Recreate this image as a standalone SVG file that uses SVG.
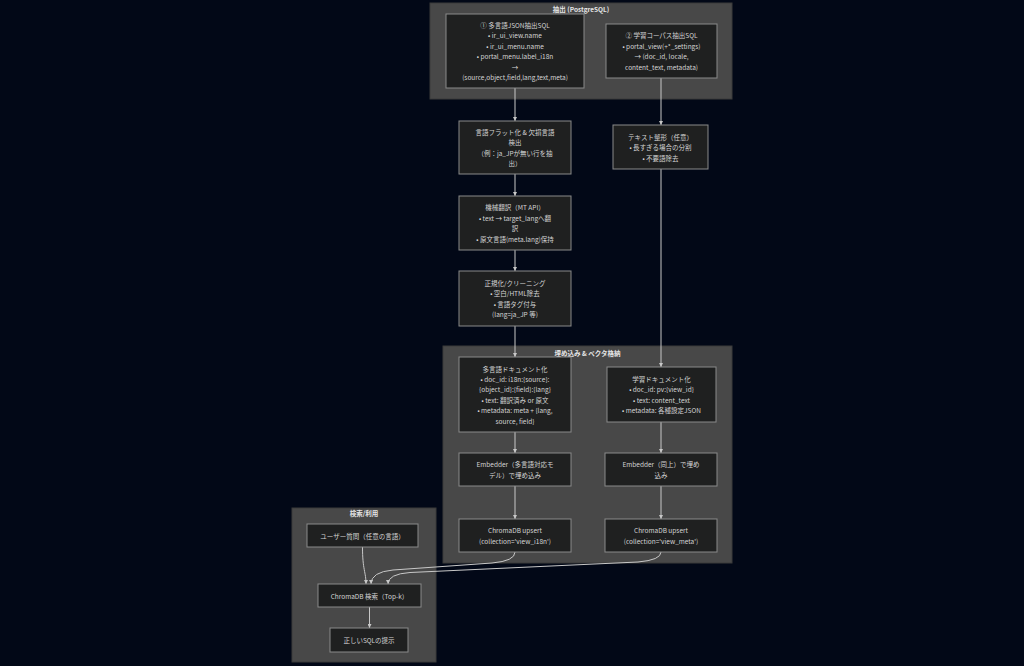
<svg xmlns="http://www.w3.org/2000/svg" width="1024" height="666" viewBox="0 0 1024 666">
<defs>
<style>
.bg{fill:#020817}
.cl{fill:#484848;stroke:#3a3a3a;stroke-width:1}
.nd{fill:#1f2020;stroke:#8a8a8a;stroke-width:1}
text{font-family:"Noto Sans CJK JP","Noto Sans",sans-serif;font-size:6.5px;fill:#d4d4d4;text-anchor:middle;dominant-baseline:central}
.ct{fill:#e6e6e6;font-weight:bold}
.ed{fill:none;stroke:#c8c8c8;stroke-width:1}
</style>
<marker id="ah" viewBox="0 0 10 10" refX="10" refY="5" markerWidth="4" markerHeight="4" markerUnits="userSpaceOnUse" orient="auto">
<path d="M0,0 L10,5 L0,10 z" fill="#c8c8c8"/>
</marker>
</defs>
<rect class="bg" x="0" y="0" width="1024" height="666"/>

<g id="cluster-extract">
<rect class="cl" x="430" y="3" width="302" height="96"/>
<text class="ct" x="581" y="8.5">抽出 (PostgreSQL)</text>
</g>
<g id="cluster-embed">
<rect class="cl" x="443" y="346" width="289" height="217"/>
<text class="ct" x="587.5" y="352.5">埋め込み &amp; ベクタ格納</text>
</g>
<g id="cluster-search">
<rect class="cl" x="292" y="508" width="144" height="154"/>
<text class="ct" x="364" y="513">検索/利用</text>
</g>

<g id="edges">
<path class="ed" d="M515,88 L515,121" marker-end="url(#ah)"/>
<path class="ed" d="M515,174 L515,196" marker-end="url(#ah)"/>
<path class="ed" d="M515,250 L515,271" marker-end="url(#ah)"/>
<path class="ed" d="M515,326 L515,357" marker-end="url(#ah)"/>
<path class="ed" d="M515,432 L515,453" marker-end="url(#ah)"/>
<path class="ed" d="M515,486 L515,519" marker-end="url(#ah)"/>
<path class="ed" d="M661,78 L661,125" marker-end="url(#ah)"/>
<path class="ed" d="M661,169 L661,367" marker-end="url(#ah)"/>
<path class="ed" d="M661,422 L661,453" marker-end="url(#ah)"/>
<path class="ed" d="M661,486 L661,519" marker-end="url(#ah)"/>
<path class="ed" d="M362.5,547 C362.5,570 366,572 366,584" marker-end="url(#ah)"/>
<path class="ed" d="M515,552 Q515,561 492,563 L393,570 Q371,572 371,584" marker-end="url(#ah)"/>
<path class="ed" d="M661,552 Q661,560 638,562 L410,572.5 Q388,574 388,584" marker-end="url(#ah)"/>
<path class="ed" d="M369.5,607 L369.5,628" marker-end="url(#ah)"/>
</g>

<g id="n-sql1">
<rect class="nd" x="446" y="14" width="138" height="74"/>
<text x="515" y="25">① 多言語JSON抽出SQL</text>
<text x="515" y="35.4">• ir_ui_view.name</text>
<text x="515" y="45.8">• ir_ui_menu.name</text>
<text x="515" y="56.2">• portal_menu.label_i18n</text>
<text x="515" y="66.6">→</text>
<text x="515" y="77">(source,object,field,lang,text,meta)</text>
</g>
<g id="n-sql2">
<rect class="nd" x="606" y="24" width="111" height="54"/>
<text x="661.5" y="35.4">② 学習コーパス抽出SQL</text>
<text x="661.5" y="45.8">• portal_view(+*_settings)</text>
<text x="661.5" y="56.2">→ (doc_id, locale,</text>
<text x="661.5" y="66.6">content_text, metadata)</text>
</g>
<g id="n-flat">
<rect class="nd" x="459" y="121" width="112" height="53"/>
<text x="515" y="131.9">言語フラット化 &amp; 欠損言語</text>
<text x="515" y="142.3">検出</text>
<text x="515" y="152.7">（例：ja_JPが無い行を抽</text>
<text x="515" y="163.1">出）</text>
</g>
<g id="n-mt">
<rect class="nd" x="459" y="196" width="112" height="54"/>
<text x="515" y="207.4">機械翻訳（MT API）</text>
<text x="515" y="217.8">• text → target_langへ翻</text>
<text x="515" y="228.2">訳</text>
<text x="515" y="238.6">• 原文言語(meta.lang)保持</text>
</g>
<g id="n-norm">
<rect class="nd" x="459" y="271" width="112" height="55"/>
<text x="515" y="282.9">正規化/クリーニング</text>
<text x="515" y="293.3">• 空白/HTML除去</text>
<text x="515" y="303.7">• 言語タグ付与</text>
<text x="515" y="314.1">(lang=ja_JP 等)</text>
</g>
<g id="n-textfmt">
<rect class="nd" x="613" y="125" width="95" height="44"/>
<text x="660.5" y="137">テキスト整形（任意）</text>
<text x="660.5" y="147.4">• 長すぎる場合の分割</text>
<text x="660.5" y="157.8">• 不要語除去</text>
</g>
<g id="n-doc1">
<rect class="nd" x="459" y="357" width="112" height="75"/>
<text x="515" y="368.5">多言語ドキュメント化</text>
<text x="515" y="378.9">• doc_id: i18n:{source}:</text>
<text x="515" y="389.3">{object_id}:{field}:{lang}</text>
<text x="515" y="399.7">• text: 翻訳済み or 原文</text>
<text x="515" y="410.1">• metadata: meta + {lang,</text>
<text x="515" y="420.5">source, field}</text>
</g>
<g id="n-doc2">
<rect class="nd" x="607" y="367" width="109" height="55"/>
<text x="661.5" y="378.9">学習ドキュメント化</text>
<text x="661.5" y="389.3">• doc_id: pv:{view_id}</text>
<text x="661.5" y="399.7">• text: content_text</text>
<text x="661.5" y="410.1">• metadata: 各種設定JSON</text>
</g>
<g id="n-emb1">
<rect class="nd" x="459" y="453" width="112" height="33"/>
<text x="515" y="464.3">Embedder（多言語対応モ</text>
<text x="515" y="474.7">デル）で埋め込み</text>
</g>
<g id="n-emb2">
<rect class="nd" x="605" y="453" width="112" height="33"/>
<text x="661" y="464.3">Embedder（同上）で埋め</text>
<text x="661" y="474.7">込み</text>
</g>
<g id="n-chroma1">
<rect class="nd" x="459" y="519" width="112" height="33"/>
<text x="515" y="530.3">ChromaDB upsert</text>
<text x="515" y="540.7">(collection='view_i18n')</text>
</g>
<g id="n-chroma2">
<rect class="nd" x="605" y="519" width="112" height="33"/>
<text x="661" y="530.3">ChromaDB upsert</text>
<text x="661" y="540.7">(collection='view_meta')</text>
</g>
<g id="n-user">
<rect class="nd" x="307" y="524" width="111" height="23"/>
<text x="362.5" y="535.5">ユーザー質問（任意の言語）</text>
</g>
<g id="n-search">
<rect class="nd" x="318" y="584" width="103" height="23"/>
<text x="369.5" y="595.5">ChromaDB 検索（Top-k）</text>
</g>
<g id="n-sql">
<rect class="nd" x="330" y="628" width="78" height="24"/>
<text x="369" y="640">正しいSQLの提示</text>
</g>
</svg>
